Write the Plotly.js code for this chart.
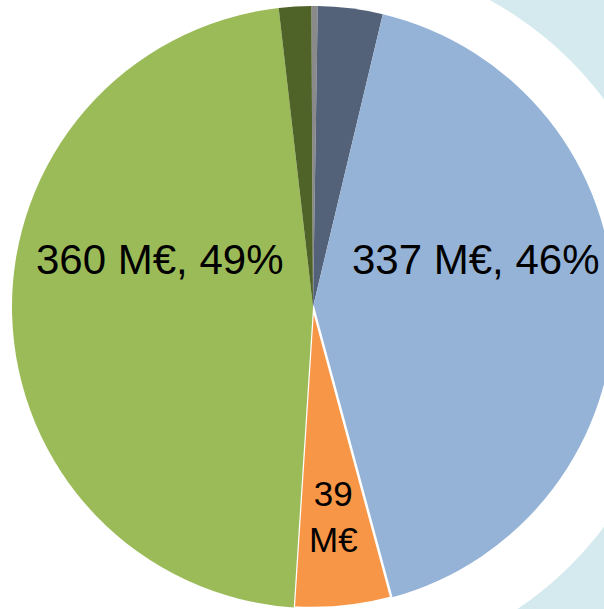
<!DOCTYPE html>
<html>
<head>
<meta charset="utf-8">
<script src="https://cdn.plot.ly/plotly-3.0.1.min.js"></script>
<style>
html,body{margin:0;padding:0;overflow:hidden;background:#fff;}
#chart{width:620px;height:620px;}
</style>
</head>
<body>
<div id="chart"></div>
<script>
// Slice order, clockwise from 12 o'clock
const categories = ["Autres", "Segment A", "Segment B", "Segment C", "Segment D", "Segment E"];
const values = [2.5, 26, 315, 39, 353, 13];           // M€
const colors = ["#8a8a8a", "#536279", "#95b3d7", "#f79646", "#9bbb59", "#4f6228"];
const labelTexts = ["360 M€, 49%", "337 M€, 46%", "39<br>M€"];

const W = 620, H = 620;

const trace = {
  type: "pie",
  labels: categories,
  values: values,
  sort: false,
  direction: "clockwise",
  rotation: -0.3,
  textinfo: "none",
  hoverinfo: "label+value",
  marker: {
    colors: colors,
    line: {color: "#ffffff", width: [0, 0, 0, 2.5, 0, 0]}
  },
  domain: {x: [12 / W, 614 / W], y: [1 - 608 / H, 1 - 6 / H]},
  showlegend: false
};

function px(x) { return x / W; }
function py(y) { return 1 - y / H; }

const layout = {
  width: W, height: H,
  margin: {l: 0, r: 0, t: 0, b: 0},
  paper_bgcolor: "#ffffff",
  showlegend: false,
  font: {family: "Liberation Sans, Arial, sans-serif", color: "#000000"},
  shapes: [
    {type: "circle", xref: "paper", yref: "paper", layer: "below",
     x0: px(1000 - 650), x1: px(1000 + 650), y0: py(310 + 650), y1: py(310 - 650),
     fillcolor: "#d5eaee", line: {width: 0}},
    {type: "circle", xref: "paper", yref: "paper", layer: "below",
     x0: px(318 - 357), x1: px(318 + 357), y0: py(313 + 357), y1: py(313 - 357),
     fillcolor: "#ffffff", line: {width: 0}}
  ],
  annotations: [
    {text: labelTexts[0], xref: "paper", yref: "paper", x: px(160), y: py(259),
     xanchor: "center", yanchor: "middle", showarrow: false, font: {size: 42}},
    {text: labelTexts[1], xref: "paper", yref: "paper", x: px(476), y: py(259),
     xanchor: "center", yanchor: "middle", showarrow: false, font: {size: 42}},
    {text: labelTexts[2], xref: "paper", yref: "paper", x: px(333), y: py(516),
     xanchor: "center", yanchor: "middle", showarrow: false, font: {size: 35}}
  ]
};

Plotly.newPlot("chart", [trace], layout, {displayModeBar: false, staticPlot: true});
</script>
</body>
</html>
